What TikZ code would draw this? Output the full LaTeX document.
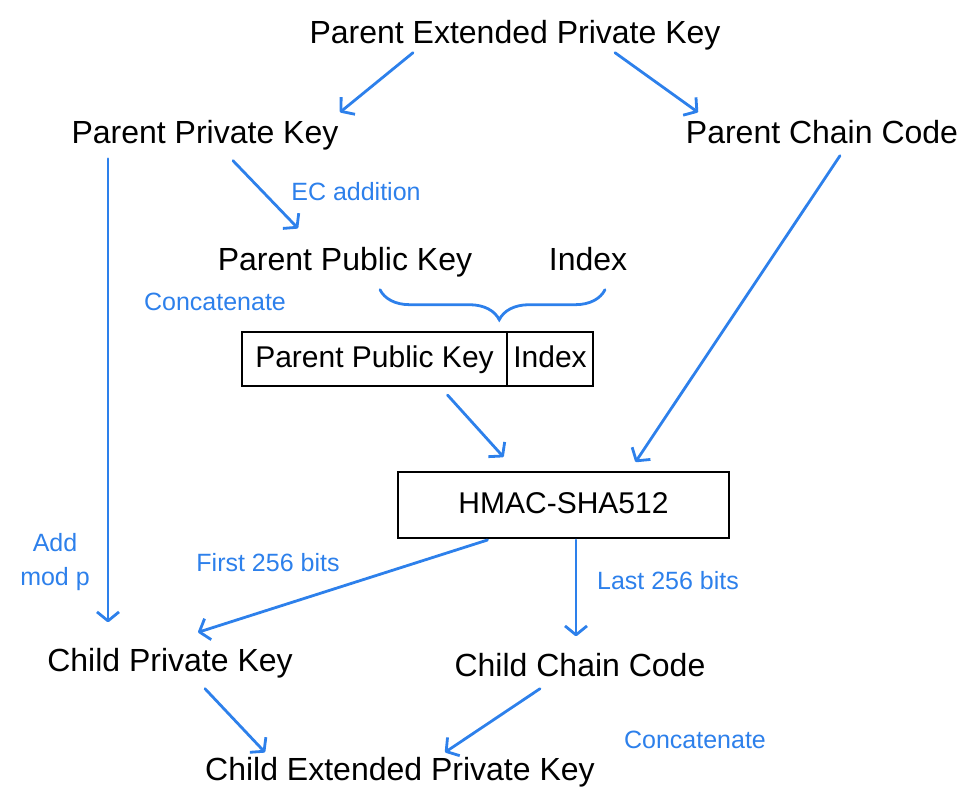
\documentclass[tikz,border=0pt]{standalone}
\usepackage{fontspec}
\setmainfont{Liberation Sans}
\usepackage{xcolor}
\usetikzlibrary{arrows.meta,decorations.pathreplacing,positioning}
\definecolor{penblue}{RGB}{45,128,235}

\begin{document}
\begin{tikzpicture}[x=1pt,y=-1pt,
    lbl/.style={inner sep=2pt,text height=24pt,text depth=7pt,
      font=\fontsize{32}{36}\selectfont},
    note/.style={text=penblue,inner sep=1pt,font=\fontsize{25}{34}\selectfont},
    cell/.style={draw,line width=2.2pt,inner sep=0pt,outer sep=0pt,
      text height=22pt,text depth=6pt,
      minimum height=54pt,font=\fontsize{30}{34}\selectfont},
    arr/.style={draw=penblue,line width=2.8pt,line cap=round,
      -{Straight Barb[length=9pt,width=22pt,line join=round]}}]
    \useasboundingbox (0,0) rectangle (958,809);
    % keys
    \node[lbl] (pepk) at (515,35) {Parent Extended Private Key};
    \node[lbl] (ppk) at (205,135) {Parent Private Key};
    \node[lbl] (pcc) at (822,135) {Parent Chain Code};
    \node[lbl] (ppubk) at (345,262) {Parent Public Key};
    \node[lbl] (idx) at (588,262) {Index};
    \node[lbl] (cprk) at (170,663) {Child Private Key};
    \node[lbl] (ccc) at (580,668) {Child Chain Code};
    \node[lbl] (cepk) at (400,772) {Child Extended Private Key};
    % boxes
    \node[cell,minimum width=265pt] (boxkey) at (374.5,359) {Parent Public Key};
    \node[cell,minimum width=86pt,right=0pt of boxkey] (boxidx) {Index};
    \node[cell,minimum width=331pt,minimum height=66pt] (hmac)
      at (563.5,505) {HMAC-SHA512};
    % blue notes
    \node[note] (ecadd) at (356,192) {EC addition};
    \node[note] (concat1) at (215,302) {Concatenate};
    \node[note,align=center] (addmod) at (55,562) {Add\\mod p};
    \node[note] (first) at (268,563) {First 256 bits};
    \node[note] (last) at (668,581) {Last 256 bits};
    \node[note] (concat2) at (695,740) {Concatenate};
    % arrows
    \draw[arr] ([xshift=-102pt]pepk.south) -- ([xshift=135pt,yshift=5pt]ppk.north);
    \draw[arr] ([xshift=100pt]pepk.south) -- ([xshift=-124pt,yshift=5pt]pcc.north);
    \draw[arr] ([xshift=-97pt,yshift=-6pt]ppk.south)
      -- ([xshift=-62pt,yshift=23pt]cprk.north);
    \draw[arr] ([xshift=28pt,yshift=-8pt]ppk.south)
      -- ([xshift=-47pt,yshift=16pt]ppubk.north);
    \draw[arr] ([xshift=18pt,yshift=-3pt]pcc.south)
      -- ([xshift=72pt,yshift=10pt]hmac.north);
    \draw[arr] ([xshift=73pt,yshift=-9pt]boxkey.south)
      -- ([xshift=-60pt,yshift=15pt]hmac.north);
    \draw[arr] ([xshift=-76pt,yshift=-2pt]hmac.south)
      -- ([xshift=28pt,yshift=13pt]cprk.north);
    \draw[arr] ([xshift=12.5pt,yshift=-2pt]hmac.south)
      -- ([xshift=-4pt,yshift=14pt]ccc.north);
    \draw[arr] ([xshift=35pt,yshift=-8pt]cprk.south)
      -- ([xshift=-135pt,yshift=2pt]cepk.north);
    \draw[arr] ([xshift=-40pt,yshift=-3pt]ccc.south)
      -- ([xshift=45pt,yshift=2pt]cepk.north);
    % brace
    \draw[penblue,line width=2.8pt,line cap=round,decorate,
      decoration={brace,mirror,amplitude=30pt,aspect=0.53}]
      ([xshift=35pt,yshift=-10pt]ppubk.south) -- ([xshift=17pt,yshift=-10pt]idx.south);
\end{tikzpicture}
\end{document}
